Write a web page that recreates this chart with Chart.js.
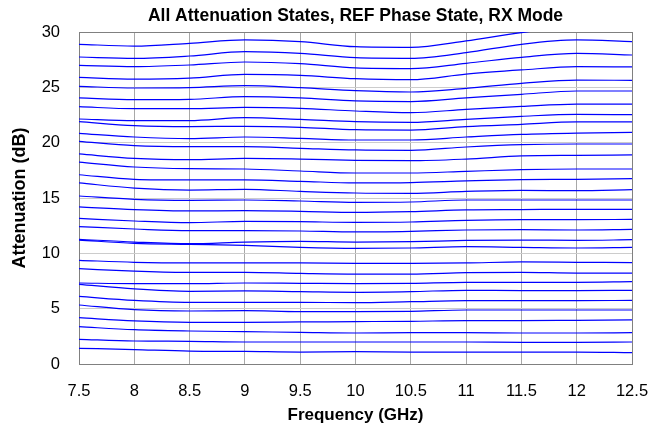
<!DOCTYPE html>
<html lang="en">
<head>
    <meta charset="UTF-8">
    <title>All Attenuation States</title>
    <style>
        body { margin: 0; background: #fff; }
    </style>
    <script src="https://cdn.jsdelivr.net/npm/chart.js"></script>
</head>
<body>
    <canvas id="attChart" width="650" height="428"></canvas>
    <script>
        // frequency points (GHz)
        const freqs = [7.5, 8, 8.5, 9, 9.5, 10, 10.5, 11, 11.5, 12, 12.5];

        // attenuation per state (dB)
        const s1  = [1.42, 1.30, 1.17, 1.14, 1.08, 1.11, 1.08, 1.08, 1.08, 1.08, 1.02];
        const s2  = [2.23, 2.08, 2.05, 1.99, 1.99, 1.99, 1.99, 1.99, 1.96, 1.96, 1.99];
        const s3  = [3.37, 3.10, 2.98, 2.92, 2.86, 2.80, 2.83, 2.83, 2.80, 2.80, 2.83];
        const s4  = [4.19, 3.89, 3.77, 3.77, 3.80, 3.83, 3.86, 3.92, 3.92, 3.95, 3.98];
        const s5  = [5.33, 4.91, 4.79, 4.82, 4.73, 4.73, 4.76, 4.88, 4.88, 4.88, 4.88];
        const s6  = [6.11, 5.75, 5.57, 5.57, 5.57, 5.54, 5.63, 5.72, 5.72, 5.72, 5.75];
        const s7  = [7.20, 6.78, 6.57, 6.60, 6.54, 6.48, 6.54, 6.66, 6.63, 6.63, 6.66];
        const s8  = [7.32, 7.26, 7.26, 7.32, 7.29, 7.26, 7.29, 7.38, 7.38, 7.38, 7.44];
        const s9  = [8.61, 8.40, 8.28, 8.28, 8.19, 8.13, 8.13, 8.25, 8.28, 8.22, 8.22];
        const s10 = [9.37, 9.19, 9.13, 9.13, 9.13, 9.10, 9.10, 9.13, 9.22, 9.19, 9.16];
        const s11 = [11.20, 10.90, 10.81, 10.72, 10.54, 10.45, 10.48, 10.60, 10.54, 10.48, 10.54];
        const s12 = [11.27, 11.02, 10.87, 11.02, 11.08, 11.02, 11.05, 11.17, 11.20, 11.17, 11.23];
        const s13 = [12.41, 12.20, 12.05, 12.05, 12.02, 11.93, 11.99, 12.11, 12.14, 12.11, 12.17];
        const s14 = [13.16, 12.92, 12.77, 12.89, 12.86, 12.80, 12.83, 12.98, 13.04, 13.04, 13.07];
        const s15 = [14.19, 13.95, 13.83, 13.86, 13.80, 13.70, 13.77, 13.92, 13.95, 13.98, 13.98];
        const s16 = [15.18, 14.88, 14.79, 14.82, 14.73, 14.61, 14.64, 14.82, 14.82, 14.82, 14.82];
        const s17 = [16.36, 15.90, 15.72, 15.78, 15.60, 15.45, 15.42, 15.60, 15.69, 15.66, 15.75];
        const s18 = [17.10, 16.69, 16.63, 16.63, 16.51, 16.36, 16.39, 16.54, 16.66, 16.69, 16.75];
        const s19 = [18.25, 17.80, 17.65, 17.62, 17.44, 17.26, 17.26, 17.41, 17.56, 17.62, 17.62];
        const s20 = [18.98, 18.58, 18.46, 18.58, 18.52, 18.40, 18.37, 18.52, 18.80, 18.86, 18.89];
        const s21 = [20.12, 19.73, 19.64, 19.64, 19.49, 19.34, 19.31, 19.61, 19.82, 19.88, 19.88];
        const s22 = [20.84, 20.51, 20.36, 20.51, 20.39, 20.24, 20.24, 20.51, 20.75, 20.87, 20.93];
        const s23 = [21.90, 21.54, 21.45, 21.48, 21.39, 21.17, 21.14, 21.45, 21.66, 21.87, 21.87];
        const s24 = [22.14, 21.99, 21.99, 22.26, 22.11, 21.90, 21.84, 22.11, 22.38, 22.56, 22.53];
        const s25 = [23.25, 23.07, 23.07, 23.19, 23.10, 22.86, 22.71, 23.01, 23.28, 23.49, 23.49];
        const s26 = [24.04, 23.89, 23.92, 24.16, 24.04, 23.77, 23.71, 24.04, 24.37, 24.67, 24.67];
        const s27 = [25.09, 24.94, 24.97, 25.15, 24.97, 24.70, 24.58, 24.91, 25.36, 25.66, 25.63];
        const s28 = [25.90, 25.75, 25.84, 26.17, 26.08, 25.78, 25.69, 26.20, 26.57, 26.87, 26.84];
        const s29 = [26.99, 26.87, 27.02, 27.29, 27.14, 26.75, 26.69, 27.17, 27.71, 28.07, 27.92];
        const s30 = [27.74, 27.62, 27.83, 28.22, 28.07, 27.68, 27.62, 28.13, 28.89, 29.28, 29.13];
        const s31 = [28.89, 28.73, 28.98, 29.28, 29.13, 28.67, 28.61, 29.19, 29.95, 30.40, 30.25];

        const states = [s1, s2, s3, s4, s5, s6, s7, s8, s9, s10, s11, s12, s13, s14, s15, s16,
                        s17, s18, s19, s20, s21, s22, s23, s24, s25, s26, s27, s28, s29, s30, s31];

        Chart.defaults.font.family = "'Liberation Sans', Arial, sans-serif";
        Chart.defaults.color = '#000';

        const datasets = states.map((vals, i) => ({
            label: 'State ' + (i + 1),
            data: vals.map((v, j) => ({ x: freqs[j], y: v })),
            borderColor: '#0000ff',
            borderWidth: 1.2,
            pointRadius: 0,
            cubicInterpolationMode: 'monotone',
            fill: false
        }));

        const ctx = document.getElementById('attChart').getContext('2d');
        new Chart(ctx, {
            type: 'line',
            data: { datasets: datasets },
            options: {
                responsive: false,
                animation: false,
                devicePixelRatio: 1,
                layout: { padding: { left: 0, right: 18, top: 0, bottom: 0 } },
                plugins: {
                    legend: { display: false },
                    tooltip: { enabled: false },
                    title: {
                        display: true,
                        text: 'All Attenuation States, REF Phase State, RX Mode',
                        fullSize: false,
                        font: { size: 17.5, weight: 'bold' },
                        padding: { top: 6, bottom: 5 }
                    }
                },
                scales: {
                    x: {
                        type: 'linear',
                        min: 7.5,
                        max: 12.5,
                        afterFit: s => {
                            s.height = 64;
                            s.paddingLeft = 0;
                            s.paddingRight = 0;
                        },
                        ticks: {
                            stepSize: 0.5,
                            padding: 18,
                            font: { size: 16.5 },
                            callback: v => String(v)
                        },
                        grid: {
                            drawTicks: false,
                            color: c => (c.tick && c.tick.value === 12.5) ? '#808080' : '#a8a8a8'
                        },
                        border: { color: '#808080' },
                        title: {
                            display: true,
                            text: 'Frequency (GHz)',
                            font: { size: 17, weight: 'bold' },
                            padding: { top: 0, bottom: 2 }
                        }
                    },
                    y: {
                        min: 0,
                        max: 30,
                        afterFit: s => { s.width = 79; },
                        ticks: {
                            stepSize: 5,
                            padding: 19,
                            font: { size: 16.5 }
                        },
                        grid: {
                            drawTicks: false,
                            color: c => (c.tick && c.tick.value === 30) ? '#808080' : '#cccccc'
                        },
                        border: { color: '#808080' },
                        title: {
                            display: true,
                            text: 'Attenuation (dB)',
                            font: { size: 18, weight: 'bold' },
                            padding: { top: 9, bottom: 0 }
                        }
                    }
                }
            }
        });
    </script>
</body>
</html>
